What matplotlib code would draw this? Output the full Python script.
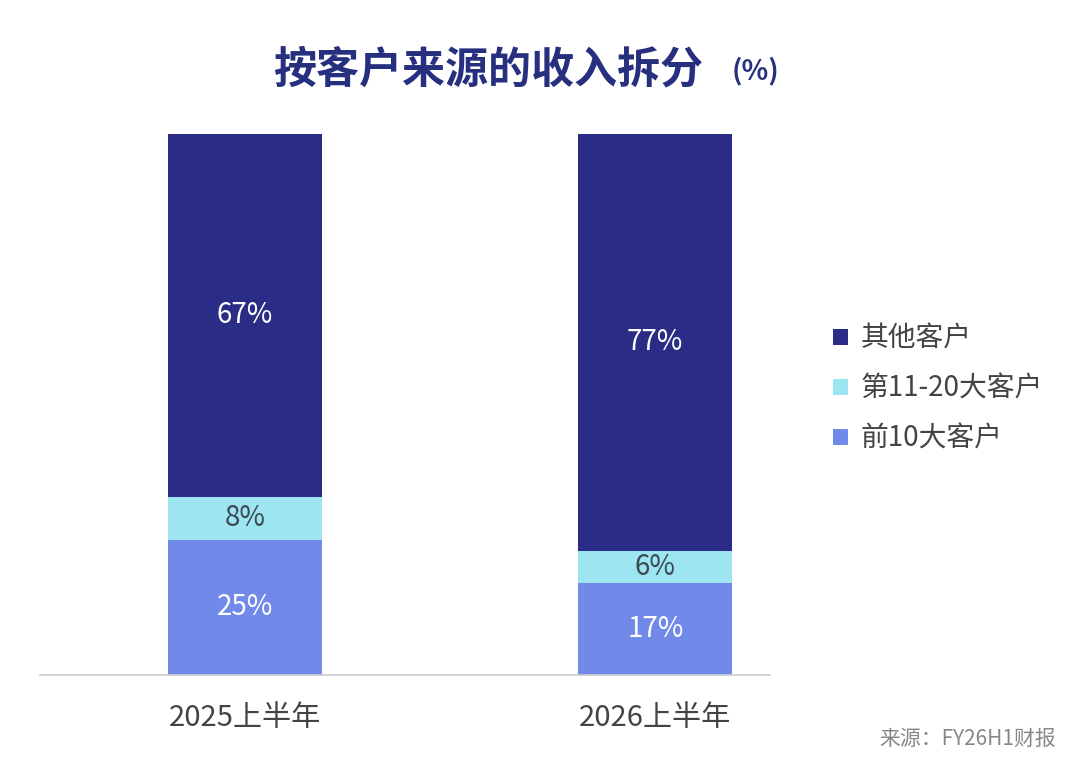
import matplotlib
matplotlib.use('Agg')
import matplotlib.pyplot as plt
from matplotlib.patches import Patch

plt.rcParams['font.family'] = ['Noto Sans CJK SC', 'DejaVu Sans']

categories = ['2025上半年', '2026上半年']
series_names = ['前10大客户', '第11-20大客户', '其他客户']
top10 = [25, 17]
top11_20 = [8, 6]
others = [67, 77]
colors = ['#7189e8', '#9ee5f2', '#2a2c86']
label_colors = ['white', '#3a4a50', 'white']

fig = plt.figure(figsize=(10.8, 7.67), dpi=100)
fig.patch.set_facecolor('white')
ax = fig.add_axes([0.037, 0.12, 0.676, 0.705])

x = list(range(len(categories)))
bottom = [0, 0]
for vals, col, lc in zip([top10, top11_20, others], colors, label_colors):
    ax.bar(x, vals, width=0.376, bottom=bottom, color=col, edgecolor='none')
    for xi, v, b in zip(x, vals, bottom):
        ax.text(xi, b + v / 2, f'{v}%', ha='center', va='center',
                fontsize=20, color=lc)
    bottom = [b + v for b, v in zip(bottom, vals)]

ax.set_xlim(-0.5, 1.28)
ax.set_ylim(0, 100)
ax.set_yticks([])
ax.set_xticks(x)
ax.set_xticklabels(categories, fontsize=21, color='#444444')
ax.tick_params(axis='x', length=0, pad=20)
for s in ['top', 'right', 'left']:
    ax.spines[s].set_visible(False)
ax.spines['bottom'].set_color('#cccccc')
ax.spines['bottom'].set_linewidth(1.2)

handles = [Patch(facecolor=c) for c in colors[::-1]]
fig.legend(handles, series_names[::-1], loc='center left',
           bbox_to_anchor=(0.771, 0.493), frameon=False, fontsize=20,
           handlelength=0.55, handleheight=0.55, handletextpad=0.45,
           labelspacing=0.72, labelcolor='#444444',
           borderpad=0, borderaxespad=0)

fig.text(0.452, 0.91, '按客户来源的收入拆分', ha='center', va='center',
         fontsize=31, fontweight='bold', color='#27307f')
fig.text(0.7, 0.907, '(%)', ha='center', va='center',
         fontsize=20, fontweight='bold', color='#27307f')
fig.text(0.978, 0.037, '来源：FY26H1财报', ha='right', va='center',
         fontsize=15, color='#888888')

fig.savefig('out.png', dpi=100, facecolor='white')
